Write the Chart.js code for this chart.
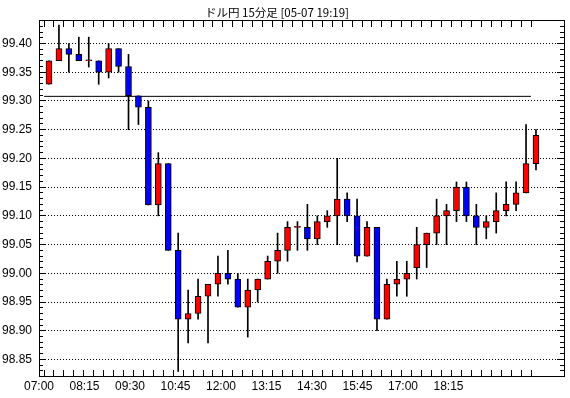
<!DOCTYPE html>
<html>
<head>
<meta charset="utf-8">
<script src="https://cdn.jsdelivr.net/npm/chart.js@4.4.1/dist/chart.umd.min.js"></script>
<style>
  body { margin: 0; background: #fff; }
  #wrap { position: relative; width: 570px; height: 398px; }
  #title {
    position: absolute; left: 0; top: 4px; width: 554px; text-align: center;
    font: 11.5px "Noto Sans CJK JP", sans-serif; line-height: 16px; color: #000;
  }
</style>
</head>
<body>
<div id="wrap">
  <div id="title">ドル円 15分足 [05-07 19:19]</div>
  <canvas id="chart" width="570" height="398"></canvas>
</div>
<script>
// 15-minute candles, 07:00 .. 19:15
const timeLabels = ["07:00", "08:15", "09:30", "10:45", "12:00", "13:15", "14:30", "15:45", "17:00", "18:15"];

const opens = [99.329, 99.370, 99.391, 99.381, 99.370, 99.370, 99.350, 99.391, 99.360, 99.309,
  99.289, 99.119, 99.191, 99.040, 98.920, 98.930, 98.960, 98.981, 99.000, 98.990,
  98.941, 98.971, 98.990, 99.021, 99.040, 99.080, 99.080, 99.060, 99.090, 99.100,
  99.129, 99.100, 99.030, 99.080, 98.920, 98.981, 98.990, 99.010, 99.050, 99.070,
  99.100, 99.109, 99.150, 99.100, 99.080, 99.090, 99.109, 99.120, 99.140, 99.191];
const highs = [99.370, 99.432, 99.400, 99.411, 99.411, 99.370, 99.400, 99.391, 99.381, 99.309,
  99.300, 99.210, 99.191, 99.070, 98.971, 98.990, 98.981, 99.030, 99.040, 99.000,
  98.990, 98.990, 99.030, 99.070, 99.090, 99.090, 99.120, 99.100, 99.109, 99.200,
  99.140, 99.129, 99.090, 99.080, 98.990, 99.021, 99.021, 99.080, 99.070, 99.129,
  99.120, 99.159, 99.159, 99.120, 99.100, 99.140, 99.159, 99.159, 99.259, 99.250];
const lows = [99.329, 99.370, 99.350, 99.370, 99.359, 99.329, 99.340, 99.350, 99.250, 99.259,
  99.119, 99.100, 99.040, 98.829, 98.879, 98.920, 98.879, 98.960, 98.981, 98.941,
  98.889, 98.950, 98.990, 99.000, 99.021, 99.040, 99.040, 99.050, 99.080, 99.050,
  99.090, 99.020, 99.030, 98.900, 98.920, 98.960, 98.960, 98.990, 99.010, 99.050,
  99.050, 99.090, 99.090, 99.050, 99.060, 99.070, 99.100, 99.109, 99.140, 99.180];
const closes = [99.370, 99.391, 99.381, 99.370, 99.370, 99.350, 99.391, 99.360, 99.309, 99.289,
  99.119, 99.191, 99.040, 98.920, 98.930, 98.960, 98.981, 99.000, 98.990, 98.941,
  98.971, 98.990, 99.021, 99.040, 99.080, 99.080, 99.060, 99.090, 99.100, 99.129,
  99.100, 99.030, 99.080, 98.920, 98.981, 98.990, 99.000, 99.050, 99.070, 99.100,
  99.109, 99.150, 99.100, 99.080, 99.090, 99.109, 99.120, 99.140, 99.191, 99.240];
const refLevel = 99.308;

const UP = "#ff0000", DOWN = "#0000ff";
const labelFont = { family: "'Liberation Sans Narrow', 'Arial Narrow', 'Liberation Sans', sans-serif", size: 12 };

// frame + inward tick marks like the original terminal chart
const frameTicks = {
  id: "frameTicks",
  afterDraw(chart) {
    const { ctx, chartArea: a, scales: { x, y } } = chart;
    const al = p => Math.round(p - 0.5) + 0.5;
    ctx.save();
    ctx.strokeStyle = "#000";
    ctx.lineWidth = 1;
    ctx.beginPath();
    opens.forEach((_, i) => {
      const px = al(x.getPixelForValue(i - 0.5));
      ctx.moveTo(px, a.bottom); ctx.lineTo(px, a.bottom - 7);
      ctx.moveTo(px, a.top); ctx.lineTo(px, a.top + 7);
    });
    for (let k = Math.ceil(y.min * 100); k <= Math.floor(y.max * 100); k++) {
      const py = al(y.getPixelForValue(k / 100));
      const major = k % 5 === 0;
      ctx.moveTo(a.left, py); ctx.lineTo(a.left + (major ? 7 : 4), py);
      ctx.moveTo(a.right, py); ctx.lineTo(a.right - (major ? 8 : 5), py);
    }
    ctx.stroke();
    ctx.strokeRect(a.left + 0.5, a.top + 0.5, a.width - 1, a.height - 1);
    ctx.restore();
  }
};

const wickData = opens.map((_, i) => ({ x: i, y: [lows[i], highs[i]] }));
const bodyData = opens.map((o, i) => ({ x: i, y: [o, closes[i]] }));
const bodyColors = opens.map((o, i) => (closes[i] >= o ? UP : DOWN));
const refData = [{ x: -0.5, y: refLevel }, { x: opens.length - 1.5, y: refLevel }];

new Chart(document.getElementById("chart"), {
  type: "bar",
  data: {
    datasets: [
      {
        type: "line",
        data: refData,
        borderColor: "#000",
        borderWidth: 1,
        pointRadius: 0,
        order: 2,
      },
      {
        data: wickData,
        backgroundColor: "#000",
        barThickness: 1,
        grouped: false,
        order: 1,
      },
      {
        data: bodyData,
        backgroundColor: bodyColors,
        borderColor: "#000",
        borderWidth: 1,
        borderSkipped: false,
        barThickness: 6,
        minBarLength: 1,
        grouped: false,
        order: 0,
      },
    ],
  },
  options: {
    responsive: false,
    animation: false,
    layout: { padding: { top: 20, right: 5, left: 0, bottom: 0 } },
    plugins: { legend: { display: false }, tooltip: { enabled: false }, title: { display: false } },
    scales: {
      x: { type: "linear", display: false, min: -1.006, max: 51.92, offset: false },
      xt: {
        type: "linear",
        position: "bottom",
        min: 0,
        max: 11.56,
        offset: false,
        afterFit: s => { s.height = 21; },
        grid: { display: false, drawTicks: false, offset: false },
        border: { display: false },
        ticks: {
          stepSize: 1,
          includeBounds: false,
          autoSkip: false,
          maxRotation: 0,
          padding: 2,
          color: "#000",
          font: labelFont,
          callback: v => timeLabels[v] ?? "",
        },
      },
      y: {
        type: "linear",
        min: 98.8195,
        max: 99.4409,
        afterFit: s => { s.width = 39; },
        grid: { color: "#000", lineWidth: 1, drawTicks: false },
        border: { display: false, dash: [1, 2] },
        ticks: {
          stepSize: 0.05,
          includeBounds: false,
          padding: 7,
          color: "#000",
          font: labelFont,
          callback: v => v.toFixed(2),
        },
      },
    },
  },
  plugins: [frameTicks],
});
</script>
</body>
</html>
